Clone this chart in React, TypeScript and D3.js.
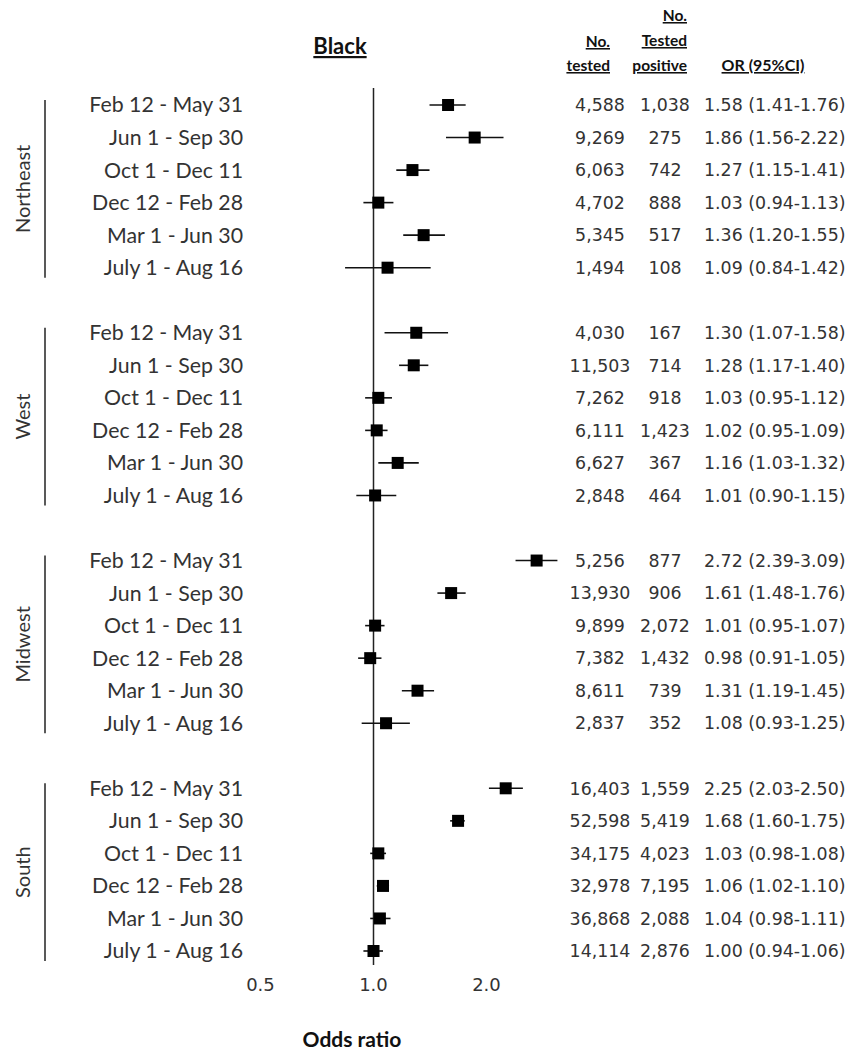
import * as d3 from "d3";

const regions = ["Northeast", "West", "Midwest", "South"];
const periods = [
  "Feb 12 - May 31",
  "Jun 1 - Sep 30",
  "Oct 1 - Dec 11",
  "Dec 12 - Feb 28",
  "Mar 1 - Jun 30",
  "July 1 - Aug 16",
];

// one inner array per region, in the order of periods
const oddsRatio = [
  [1.58, 1.86, 1.27, 1.03, 1.36, 1.09],
  [1.30, 1.28, 1.03, 1.02, 1.16, 1.01],
  [2.72, 1.61, 1.01, 0.98, 1.31, 1.08],
  [2.25, 1.68, 1.03, 1.06, 1.04, 1.00],
];
const ciLow = [
  [1.41, 1.56, 1.15, 0.94, 1.20, 0.84],
  [1.07, 1.17, 0.95, 0.95, 1.03, 0.90],
  [2.39, 1.48, 0.95, 0.91, 1.19, 0.93],
  [2.03, 1.60, 0.98, 1.02, 0.98, 0.94],
];
const ciHigh = [
  [1.76, 2.22, 1.41, 1.13, 1.55, 1.42],
  [1.58, 1.40, 1.12, 1.09, 1.32, 1.15],
  [3.09, 1.76, 1.07, 1.05, 1.45, 1.25],
  [2.50, 1.75, 1.08, 1.10, 1.11, 1.06],
];
const numTested = [
  [4588, 9269, 6063, 4702, 5345, 1494],
  [4030, 11503, 7262, 6111, 6627, 2848],
  [5256, 13930, 9899, 7382, 8611, 2837],
  [16403, 52598, 34175, 32978, 36868, 14114],
];
const numPositive = [
  [1038, 275, 742, 888, 517, 108],
  [167, 714, 918, 1423, 367, 464],
  [877, 906, 2072, 1432, 739, 352],
  [1559, 5419, 4023, 7195, 2088, 2876],
];
const xTicks = [0.5, 1.0, 2.0];

const W = 847;
const H = 1060;

const labelFont = "Lato, 'Open Sans', sans-serif";
const numFont = "'DejaVu Sans', sans-serif";

export default function App() {
  const x = d3.scaleLog().base(2).domain([0.5, 2]).range([260.5, 486.5]);
  // a blank slot between regions
  const slotsPerGroup = periods.length + 1;
  const lastSlot = (regions.length - 1) * slotsPerGroup + periods.length - 1;
  const y = d3.scaleLinear().domain([0, lastSlot]).range([105, 951]);
  const fmtN = d3.format(",");
  const fmtOR = d3.format(".2f");
  const box = 12;

  const rows = regions.flatMap((reg, g) =>
    periods.map((p, r) => ({
      g,
      r,
      label: p,
      or: oddsRatio[g][r],
      lo: ciLow[g][r],
      hi: ciHigh[g][r],
      tested: numTested[g][r],
      pos: numPositive[g][r],
      cy: y(g * slotsPerGroup + r),
    }))
  );

  return (
    <svg width={W} height={H} style={{ position: "absolute", left: 0, top: 0, background: "#fff" }}>
      {/* headers */}
      <g fontFamily={labelFont} fontWeight="bold" fill="#111">
        <text x={340} y={54} fontSize={22} textAnchor="middle" textDecoration="underline">Black</text>
        <text x={610} y={47} fontSize={15.5} textAnchor="end" textDecoration="underline">No.</text>
        <text x={610} y={71} fontSize={15.5} textAnchor="end" textDecoration="underline">tested</text>
        <text x={687} y={21} fontSize={15.5} textAnchor="end" textDecoration="underline">No.</text>
        <text x={687} y={46} fontSize={15.5} textAnchor="end" textDecoration="underline">Tested</text>
        <text x={687} y={71} fontSize={15.5} textAnchor="end" textDecoration="underline">positive</text>
        <text x={763} y={71} fontSize={16} textAnchor="middle" textDecoration="underline">OR (95%CI)</text>
      </g>

      {/* region brackets and labels */}
      {regions.map((reg, g) => {
        const y0 = y(g * slotsPerGroup) - 5;
        const y1 = y(g * slotsPerGroup + periods.length - 1) + 10;
        return (
          <g key={reg}>
            <line x1={45} x2={45} y1={y0} y2={y1} stroke="#222" strokeWidth={1.5} />
            <text
              transform={`translate(30,${(y0 + y1) / 2}) rotate(-90)`}
              textAnchor="middle"
              fontFamily={labelFont}
              fontSize={20}
              fill="#333"
            >
              {reg}
            </text>
          </g>
        );
      })}

      {/* reference line at OR = 1 */}
      <line x1={x(1)} x2={x(1)} y1={88} y2={965} stroke="#222" strokeWidth={1.5} />

      {rows.map((d, i) => (
        <g key={i}>
          <text x={243} y={d.cy} dy="0.35em" textAnchor="end" fontFamily={labelFont} fontSize={21.3} fill="#333">
            {d.label}
          </text>
          <line x1={x(d.lo)} x2={x(d.hi)} y1={d.cy} y2={d.cy} stroke="#111" strokeWidth={1.6} />
          <rect x={x(d.or) - box / 2} y={d.cy - box / 2} width={box} height={box} fill="#000" />
          <g fontFamily={numFont} fontSize={17.4} fill="#333">
            <text x={600} y={d.cy} dy="0.36em" textAnchor="middle">{fmtN(d.tested)}</text>
            <text x={665} y={d.cy} dy="0.36em" textAnchor="middle">{fmtN(d.pos)}</text>
            <text x={704} y={d.cy} dy="0.36em">
              {`${fmtOR(d.or)} (${fmtOR(d.lo)}-${fmtOR(d.hi)})`}
            </text>
          </g>
        </g>
      ))}

      {/* x tick labels */}
      <g fontFamily={numFont} fontSize={18} fill="#333">
        {xTicks.map((t) => (
          <text key={t} x={x(t)} y={991} textAnchor="middle">{d3.format(".1f")(t)}</text>
        ))}
      </g>
      <text x={352} y={1047} textAnchor="middle" fontFamily={labelFont} fontWeight="bold" fontSize={21} fill="#111">
        Odds ratio
      </text>
    </svg>
  );
}
